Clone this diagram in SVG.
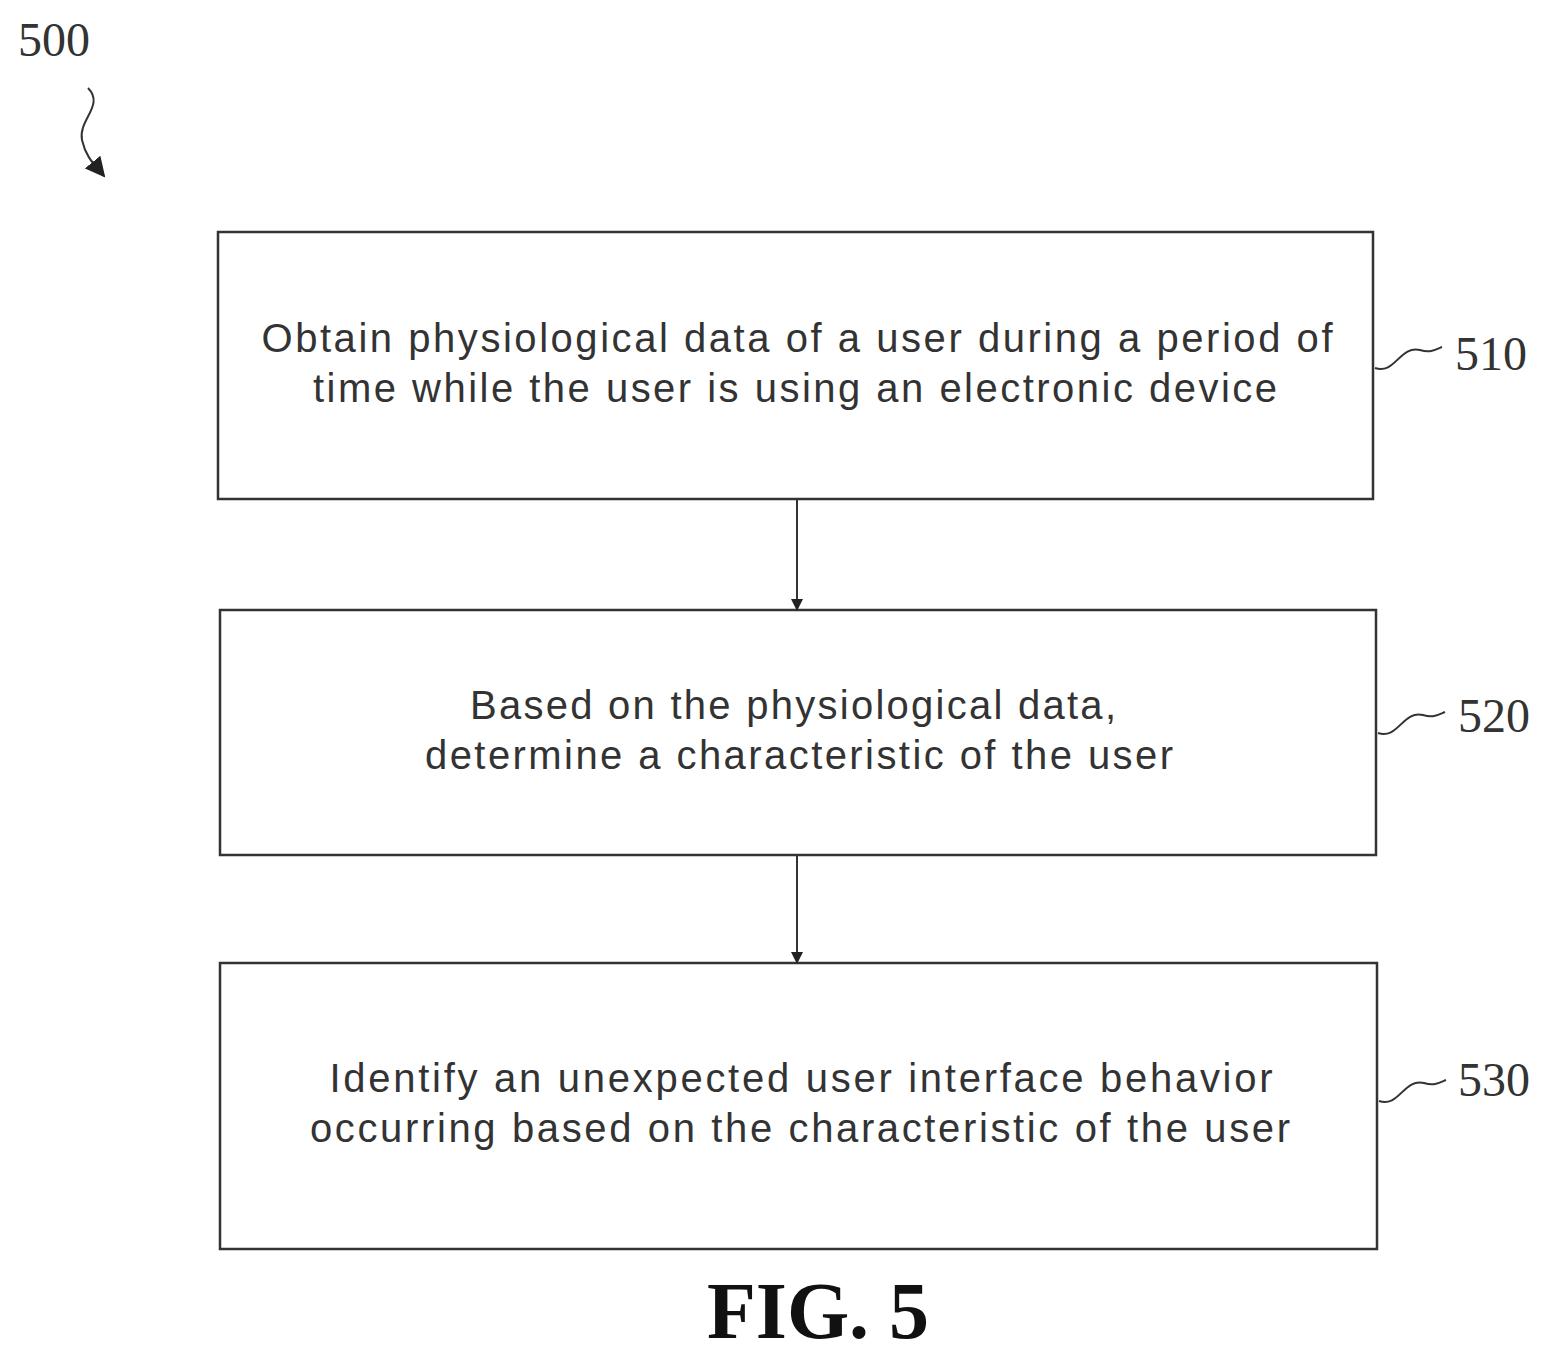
<svg xmlns="http://www.w3.org/2000/svg" width="1553" height="1363" viewBox="0 0 1553 1363">
<style>
.box{fill:#fff;stroke:#333;stroke-width:2.5}
.t{font-family:"Liberation Sans",Arial,sans-serif;font-size:40px;fill:#333;text-anchor:middle}
.ref{font-family:"Liberation Serif","Times New Roman",serif;font-size:48px;fill:#333}
.sq{fill:none;stroke:#333;stroke-width:2}
.c{stroke:#333;stroke-width:2;fill:none}
</style>
<defs><marker id="ah" markerWidth="12" markerHeight="12" refX="10" refY="6" orient="auto" markerUnits="userSpaceOnUse"><path d="M0,0 L12,6 L0,12 Z" fill="#222"/></marker>
<marker id="ah2" markerWidth="20" markerHeight="20" refX="18" refY="10" orient="auto" markerUnits="userSpaceOnUse"><path d="M0,0 L20,10 L0,20 Z" fill="#222"/></marker></defs>
<rect width="1553" height="1363" fill="#fff"/>
<text class="ref" x="18" y="56">500</text>
<path class="sq" d="M88,88 C105,105 78,120 82,140 C86,158 95,165 104,176" marker-end="url(#ah2)"/>
<g id="n510"><rect class="box" x="218" y="232" width="1155" height="267"/>
<text class="t" x="797" y="352" textLength="1071" lengthAdjust="spacing">Obtain physiological data of a user during a period of</text>
<text class="t" x="795" y="402" textLength="964" lengthAdjust="spacing">time while the user is using an electronic device</text>
<path class="sq" d="M1375,368 C1395,375 1400,345 1420,350 C1430,353 1435,350 1442,347"/>
<text class="ref" x="1455" y="370">510</text></g>
<g id="n520"><rect class="box" x="220" y="610" width="1156" height="245"/>
<text class="t" x="793" y="719" textLength="646" lengthAdjust="spacing">Based on the physiological data,</text>
<text class="t" x="799" y="769" textLength="748" lengthAdjust="spacing">determine a characteristic of the user</text>
<path class="sq" d="M1378,733 C1398,740 1403,710 1423,715 C1433,718 1438,715 1445,712"/>
<text class="ref" x="1458" y="732">520</text></g>
<g id="n530"><rect class="box" x="220" y="963" width="1157" height="286"/>
<text class="t" x="801" y="1092" textLength="943" lengthAdjust="spacing">Identify an unexpected user interface behavior</text>
<text class="t" x="800" y="1142" textLength="980" lengthAdjust="spacing">occurring based on the characteristic of the user</text>
<path class="sq" d="M1379,1101 C1399,1108 1404,1078 1424,1083 C1434,1086 1439,1083 1446,1080"/>
<text class="ref" x="1458" y="1096">530</text></g>
<g id="connectors">
<line class="c" x1="797" y1="499" x2="797" y2="609" marker-end="url(#ah)"/>
<line class="c" x1="797" y1="855" x2="797" y2="962" marker-end="url(#ah)"/>
</g>
<text x="818" y="1338" text-anchor="middle" font-family="Liberation Serif,serif" font-weight="bold" font-size="80" fill="#111">FIG. 5</text>
</svg>
